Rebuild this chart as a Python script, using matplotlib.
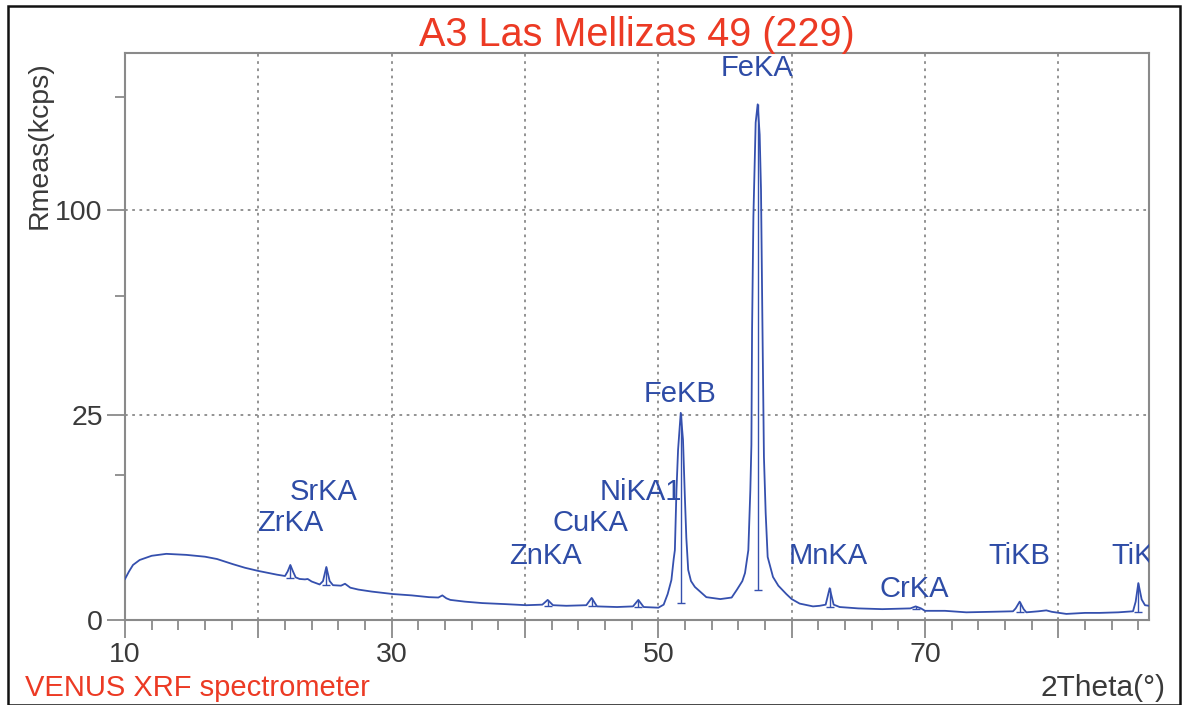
import numpy as np
import matplotlib
matplotlib.use("Agg")
import matplotlib.pyplot as plt
from matplotlib.patches import Rectangle

plt.rcParams['font.family'] = ['Liberation Sans', 'DejaVu Sans']

# ---- data (2Theta in degrees, intensity in kcps) ----
two_theta = [10.0, 10.3, 10.6, 11.1, 12.0, 13.1, 14.6, 16.0, 16.9, 18.1, 19.0, 20.0,
             21.4, 22.0, 22.2, 22.4, 22.6, 22.8, 23.1, 23.5, 23.7, 24.0, 24.6, 24.85,
             25.1, 25.35, 25.6, 26.2, 26.5, 26.9, 27.5, 28.5, 30.1, 31.5, 32.8, 33.5,
             33.8, 34.1, 34.4, 35.5, 36.8, 38.5, 40.1, 41.3, 41.7, 42.1, 43.1, 44.6,
             45.0, 45.4, 46.9, 48.1, 48.5, 48.9, 50.0, 50.4, 50.7, 50.98, 51.15, 51.24,
             51.36, 51.48, 51.68, 51.85, 51.99, 52.1, 52.24, 52.45, 52.74, 53.6, 54.65,
             55.5, 55.9, 56.3, 56.5, 56.75, 56.9, 56.98, 57.03, 57.13, 57.3, 57.45,
             57.6, 57.7, 57.8, 57.92, 58.05, 58.2, 58.6, 59.0, 59.6, 60.0, 60.6, 61.6,
             62.1, 62.55, 62.85, 63.15, 63.6, 65.0, 66.8, 68.9, 69.3, 69.7, 70.0, 71.5,
             73.1, 75.0, 76.6, 76.8, 77.1, 77.4, 77.6, 78.5, 79.1, 79.5, 80.6, 82.0,
             83.1, 84.5, 85.6, 85.8, 86.0, 86.25, 86.5, 86.8]
rmeas = [1.0, 1.4, 1.8, 2.14, 2.45, 2.6, 2.52, 2.38, 2.21, 1.85, 1.62, 1.43,
         1.22, 1.15, 1.4, 1.8, 1.4, 1.08, 1.0, 0.98, 1.0, 0.88, 0.75, 0.9,
         1.67, 0.9, 0.72, 0.70, 0.78, 0.62, 0.55, 0.48, 0.40, 0.36, 0.31, 0.30,
         0.36, 0.28, 0.24, 0.20, 0.17, 0.15, 0.13, 0.14, 0.24, 0.13, 0.12, 0.13,
         0.29, 0.11, 0.10, 0.11, 0.24, 0.10, 0.09, 0.14, 0.40, 0.95, 2.2, 2.9,
         10.0, 17.2, 25.5, 19.3, 9.0, 4.0, 1.49, 0.9, 0.65, 0.31, 0.26,
         0.30, 0.55, 0.9, 1.31, 2.9, 10.0, 18.2, 50.0, 96.6, 147.0, 158.0,
         140.0, 110.0, 55.0, 15.8, 6.8, 2.36, 1.1, 0.7, 0.40, 0.26, 0.16, 0.11,
         0.12, 0.14, 0.60, 0.14, 0.10, 0.08, 0.07, 0.08, 0.11, 0.08, 0.05, 0.05,
         0.035, 0.04, 0.045, 0.08, 0.20, 0.07, 0.035, 0.045, 0.055, 0.04, 0.022, 0.03,
         0.03, 0.035, 0.045, 0.2, 0.81, 0.25, 0.13, 0.12]

# identified lines: position, peak top, marker bottom
line_names = ['ZrKA', 'SrKA', 'ZnKA', 'CuKA', 'NiKA1', 'FeKB', 'FeKA',
              'MnKA', 'CrKA', 'TiKB', 'TiKA']
line_pos = [22.4, 25.1, 41.7, 45.0, 48.5, 51.68, 57.45, 62.85, 69.3, 77.1, 86.0]
line_top = [1.8, 1.67, 0.24, 0.29, 0.24, 25.5, 158.0, 0.60, 0.11, 0.20, 0.81]
line_bot = [1.05, 0.73, 0.12, 0.11, 0.10, 0.17, 0.54, 0.10, 0.07, 0.04, 0.04]
label_x = [22.4, 24.92, 41.56, 44.93, 48.68, 51.6, 57.38, 62.77, 69.2, 77.1, 86.3]
label_y = [5.6, 9.75, 2.44, 5.6, 9.75, 30.4, 181.0, 2.44, 0.57, 2.44, 2.44]

x_ticks = [10, 20, 30, 40, 50, 60, 70, 80]
x_tick_labels = ['10', '', '30', '', '50', '', '70', '']
y_ticks = [0, 25, 100]
y_minor = [12.5, 62.5, 162.5]

title = 'A3 Las Mellizas 49 (229)'
footer = 'VENUS XRF spectrometer'
x_label = '2Theta(°)'
y_label = 'Rmeas(kcps)'

BLUE = '#3550AE'
TEXTBLUE = '#2E4CA6'
RED = '#EC3A24'
GRAY = '#8A8A8A'
DARK = '#3A3A3A'

fig = plt.figure(figsize=(11.85, 7.05), dpi=100)
ax = fig.add_axes([125 / 1185, 1 - 620 / 705, (1149 - 125) / 1185, (620 - 53) / 705])

ax.set_yscale('function', functions=(lambda v: np.sqrt(np.clip(v, 0, None)), np.square))
ax.set_xlim(10, 86.8)
ax.set_ylim(0, 191)

ax.plot(two_theta, rmeas, color=BLUE, lw=1.3, zorder=3)
ax.vlines(line_pos, line_bot, line_top, color=BLUE, lw=1.0, zorder=3)
ax.plot(line_pos, line_bot, ls='none', marker='_', ms=6, mew=1.0, color=BLUE, zorder=3)

for name, lx, ly in zip(line_names, label_x, label_y):
    ax.text(lx, ly, name, color=TEXTBLUE, fontsize=21, ha='center', va='center',
            clip_on=True, zorder=4)

ax.set_xticks(x_ticks)
ax.set_xticklabels(x_tick_labels)
ax.set_xticks(np.arange(10, 87, 2), minor=True)
ax.set_yticks(y_ticks)
ax.set_yticklabels([str(t) for t in y_ticks])
ax.set_yticks(y_minor, minor=True)

ax.tick_params(axis='both', which='major', length=13, width=1.3, color=GRAY,
               labelsize=20.5, labelcolor=DARK, pad=3)
ax.tick_params(axis='both', which='minor', length=7, width=1.3, color=GRAY)

for s in ax.spines.values():
    s.set_color(GRAY)
    s.set_linewidth(1.5)

ax.grid(True, which='major', color=GRAY, ls=(0, (1.5, 2.5)), lw=1.3)
ax.set_axisbelow(True)

fig.text(637 / 1185, 1 - 35 / 705, title, color=RED, fontsize=28.5, ha='center', va='center')
fig.text(25 / 1185, 1 - 688 / 705, footer, color=RED, fontsize=21, ha='left', va='center')
fig.text(1166 / 1185, 1 - 688 / 705, x_label, color=DARK, fontsize=21.5, ha='right', va='center')
fig.text(40 / 1185, 1 - 145 / 705, y_label, color=DARK, fontsize=20.5, ha='center', va='center',
         rotation=90)

fig.patches.append(Rectangle((8 / 1185, 0.0), (1180 - 8) / 1185, 1 - 6 / 705,
                             transform=fig.transFigure, fill=False, ec='#111111', lw=1.8))

fig.savefig('out.png', dpi=100)
